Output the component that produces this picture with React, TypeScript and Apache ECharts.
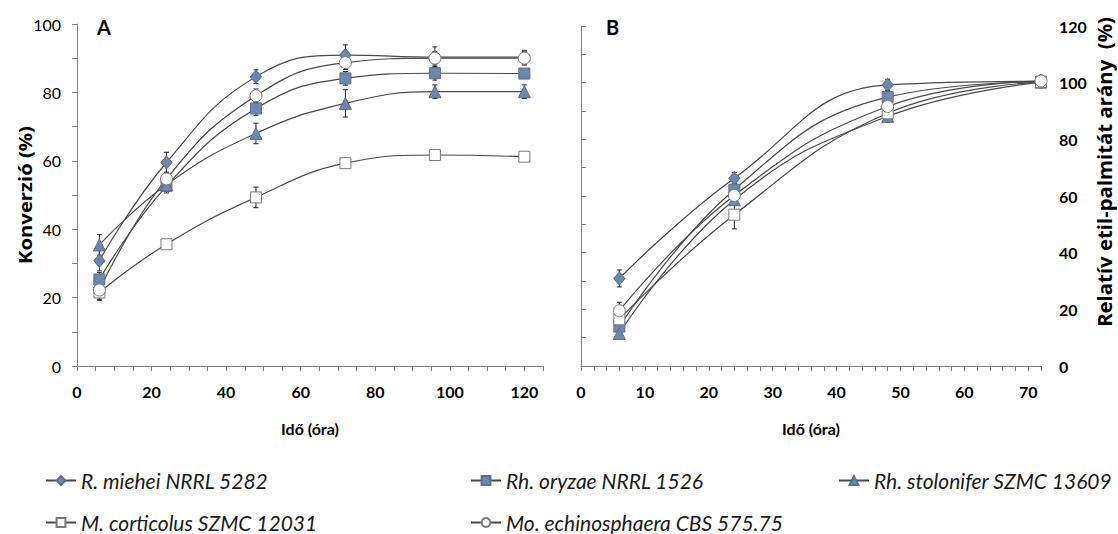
import React, { useEffect, useRef } from "react";
import * as echarts from "echarts";

// ---- Data ----
const timesA = [6, 24, 48, 72, 96, 120];
const timesB = [6, 24, 48, 72];

const seriesNames = [
  "R. miehei NRRL 5282",
  "Rh. oryzae NRRL 1526",
  "Rh. stolonifer SZMC 13609",
  "M. corticolus SZMC 12031",
  "Mo. echinosphaera CBS 575.75",
];

// Panel A: Konverzió (%)
const miehei_A = [30.8, 59.5, 84.6, 90.9, 90.3, 90.3];
const oryzae_A = [25.3, 52.6, 75.3, 84.1, 85.6, 85.5];
const stolonifer_A = [35.4, 53.0, 68.0, 76.8, 80.2, 80.2];
const corticolus_A = [21.5, 35.6, 49.3, 59.3, 61.7, 61.2];
const echino_A = [22.2, 54.7, 79.0, 88.7, 90.0, 90.0];

const miehei_A_err = [3, 3, 2, 3, 3, 2];
const oryzae_A_err = [2, 2, 2, 2, 2, 1];
const stolonifer_A_err = [3, 2, 3, 4, 2, 2];
const corticolus_A_err = [2, 1, 3, 1, 1, 1];
const echino_A_err = [3, 2, 2, 2, 2, 2];

// Panel B: Relatív etil-palmitát arány (%)
const miehei_B = [30.9, 66.3, 99.2, 100.5];
const oryzae_B = [13.9, 62.2, 94.9, 100.3];
const stolonifer_B = [11.5, 58.7, 88.1, 100.2];
const corticolus_B = [16.5, 53.4, 89.2, 100.2];
const echino_B = [19.5, 60.2, 91.6, 100.6];

const miehei_B_err = [3, 2, 2, 2];
const oryzae_B_err = [2, 2, 2, 2];
const stolonifer_B_err = [2, 2, 2, 2];
const corticolus_B_err = [2, 5, 2, 2];
const echino_B_err = [3, 2, 2, 2];

const yTicksA = [0, 20, 40, 60, 80, 100];
const yTicksB = [0, 20, 40, 60, 80, 100, 120];

const xNameA = "Idő (óra)";
const xNameB = "Idő (óra)";
const yNameA = "Konverzió (%)";
const yNameB = "Relatív etil-palmitát arány  (%)";

const FONT = "Lato, 'Open Sans', sans-serif";
const NAME_FONT = "'Open Sans', Lato, sans-serif";
const BLUE = "#6f87ad";
const BLUE_BORDER = "#586f93";
const LINE = "#4a4a4a";
const LEGEND_FS = 21;

type MarkerStyle = { symbol: string; size: number | number[]; fill: string; border: string };
const markers: MarkerStyle[] = [
  { symbol: "diamond", size: [11, 13], fill: BLUE, border: BLUE_BORDER },
  { symbol: "rect", size: 11, fill: BLUE, border: BLUE_BORDER },
  { symbol: "triangle", size: [12, 12], fill: BLUE, border: BLUE_BORDER },
  { symbol: "rect", size: 11, fill: "#ffffff", border: "#7a7a7a" },
  { symbol: "circle", size: 12, fill: "#ffffff", border: "#7a7a7a" },
];

const dataA = [miehei_A, oryzae_A, stolonifer_A, corticolus_A, echino_A];
const errA = [miehei_A_err, oryzae_A_err, stolonifer_A_err, corticolus_A_err, echino_A_err];
const dataB = [miehei_B, oryzae_B, stolonifer_B, corticolus_B, echino_B];
const errB = [miehei_B_err, oryzae_B_err, stolonifer_B_err, corticolus_B_err, echino_B_err];

function measure(text: string, font: string): number {
  try {
    const c = document.createElement("canvas").getContext("2d");
    if (!c) return 0;
    c.font = font;
    return c.measureText(text).width;
  } catch (e) {
    return 0;
  }
}

function errorSeries(times: number[], vals: number[], errs: number[], gi: number) {
  return {
    type: "custom",
    xAxisIndex: gi,
    yAxisIndex: gi,
    z: 1,
    silent: true,
    data: times.map((t, i) => [t, vals[i], errs[i]]),
    renderItem: (_p: any, api: any) => {
      const x = api.value(0);
      const y = api.value(1);
      const e = api.value(2);
      const top = api.coord([x, y + e]);
      const bot = api.coord([x, y - e]);
      const w = 2.5;
      const st = { stroke: "#222", lineWidth: 1 };
      return {
        type: "group",
        children: [
          { type: "line", shape: { x1: top[0], y1: top[1], x2: bot[0], y2: bot[1] }, style: st },
          { type: "line", shape: { x1: top[0] - w, y1: top[1], x2: top[0] + w, y2: top[1] }, style: st },
          { type: "line", shape: { x1: bot[0] - w, y1: bot[1], x2: bot[0] + w, y2: bot[1] }, style: st },
        ],
      };
    },
  };
}

function lineSeries(name: string, times: number[], vals: number[], m: MarkerStyle, gi: number) {
  return {
    type: "line",
    name,
    xAxisIndex: gi,
    yAxisIndex: gi,
    z: 3,
    smooth: 0.45,
    data: times.map((t, i) => [t, vals[i]]),
    symbol: m.symbol,
    symbolSize: m.size,
    showAllSymbol: true,
    lineStyle: { color: LINE, width: 1.2 },
    itemStyle: { color: m.fill, borderColor: m.border, borderWidth: 1 },
  };
}

export default function App() {
  const ref = useRef<HTMLDivElement>(null);
  useEffect(() => {
    if (!ref.current) return;
    const chart = echarts.init(ref.current, null, { renderer: "svg" });
    const series: any[] = [];
    for (let i = 0; i < 5; i++) {
      series.push(errorSeries(timesA, dataA[i], errA[i], 0));
      series.push(errorSeries(timesB, dataB[i], errB[i], 1));
    }
    for (let i = 0; i < 5; i++) {
      series.push(lineSeries(seriesNames[i], timesA, dataA[i], markers[i], 0));
    }
    for (let i = 0; i < 5; i++) {
      series.push(lineSeries(seriesNames[i], timesB, dataB[i], markers[i], 1));
    }
    const axisLineStyle = { color: "#7f7f7f", width: 1 };

    // legend placement: third entry ends at the right edge like the source
    const w3 = measure(seriesNames[2], `italic ${LEGEND_FS}px Lato`) || 242;
    const col3 = Math.round(1111 - w3 - 35);
    const legendPos = [
      [45, 470],
      [470, 470],
      [col3, 470],
      [45, 512],
      [470, 512],
    ];

    // vertical axis titles: stretched along their length like the source image
    const fsA = 17;
    const fsB = 19;
    const wA = measure(yNameA, `bold ${fsA}px 'Open Sans'`) || 125;
    const wB = measure(yNameB, `bold ${fsB}px 'Open Sans'`) || 320;
    const scaleA = 138 / wA;
    const scaleB = 310 / wB;

    const option: any = {
      animation: false,
      backgroundColor: "#ffffff",
      textStyle: { fontFamily: FONT },
      grid: [
        { left: 77, top: 24, width: 466, height: 342 },
        { left: 581, top: 26, width: 460, height: 340 },
      ],
      xAxis: [
        {
          type: "value",
          gridIndex: 0,
          min: 0,
          max: 125,
          interval: 5,
          name: xNameA,
          nameLocation: "middle",
          nameGap: 54,
          nameTextStyle: { fontFamily: FONT, fontWeight: "bold", fontSize: 16, color: "#000" },
          axisLine: { lineStyle: axisLineStyle },
          axisTick: { show: true, length: 5, lineStyle: axisLineStyle },
          axisLabel: {
            margin: 17,
            fontFamily: FONT,
            fontWeight: "bold",
            fontSize: 16,
            color: "#000",
            formatter: (v: number) => (v % 20 === 0 ? String(v) : ""),
          },
          splitLine: { show: false },
        },
        {
          type: "value",
          gridIndex: 1,
          min: 0,
          max: 72,
          interval: 2,
          name: xNameB,
          nameLocation: "middle",
          nameGap: 54,
          nameTextStyle: { fontFamily: FONT, fontWeight: "bold", fontSize: 16, color: "#000" },
          axisLine: { lineStyle: axisLineStyle },
          axisTick: { show: true, length: 5, lineStyle: axisLineStyle },
          axisLabel: {
            margin: 17,
            fontFamily: FONT,
            fontWeight: "bold",
            fontSize: 16,
            color: "#000",
            formatter: (v: number) => (v % 10 === 0 ? String(v) : ""),
          },
          splitLine: { show: false },
        },
      ],
      yAxis: [
        {
          type: "value",
          gridIndex: 0,
          min: yTicksA[0],
          max: yTicksA[yTicksA.length - 1],
          interval: 20,
          axisLine: { show: true, lineStyle: axisLineStyle },
          axisTick: { show: true, length: 5, lineStyle: axisLineStyle },
          minorTick: { show: true, splitNumber: 2, length: 5, lineStyle: axisLineStyle },
          axisLabel: { margin: 16, fontFamily: FONT, fontSize: 16, color: "#000" },
          splitLine: { show: false },
        },
        {
          type: "value",
          gridIndex: 1,
          position: "right",
          min: yTicksB[0],
          max: yTicksB[yTicksB.length - 1],
          interval: 20,
          axisLine: { show: true, lineStyle: axisLineStyle },
          axisTick: { show: true, length: 5, lineStyle: axisLineStyle },
          minorTick: { show: true, splitNumber: 2, length: 5, lineStyle: axisLineStyle },
          axisLabel: { margin: 18, fontFamily: FONT, fontWeight: "bold", fontSize: 16, color: "#000" },
          splitLine: { show: false },
        },
      ],
      legend: legendPos.map((p, i) => ({
        data: [seriesNames[i]],
        left: p[0],
        top: p[1],
        padding: 0,
        itemWidth: 30,
        itemHeight: 11,
        selectedMode: false,
        textStyle: { fontFamily: FONT, fontStyle: "italic", fontSize: LEGEND_FS, color: "#1a1a1a" },
      })),
      graphic: [
        {
          type: "text",
          left: 97,
          top: 17,
          style: { text: "A", fontFamily: FONT, fontWeight: "bold", fontSize: 20, fill: "#000" },
        },
        {
          type: "text",
          left: 606,
          top: 17,
          style: { text: "B", fontFamily: FONT, fontWeight: "bold", fontSize: 20, fill: "#000" },
        },
        {
          type: "text",
          x: 25,
          y: 195,
          rotation: Math.PI / 2,
          scaleX: scaleA,
          style: {
            text: yNameA,
            fontFamily: NAME_FONT,
            fontWeight: "bold",
            fontSize: fsA,
            fill: "#000",
            align: "center",
            verticalAlign: "middle",
          },
        },
        {
          type: "text",
          x: 1105,
          y: 172,
          rotation: Math.PI / 2,
          scaleX: scaleB,
          style: {
            text: yNameB,
            fontFamily: NAME_FONT,
            fontWeight: "bold",
            fontSize: fsB,
            fill: "#000",
            align: "center",
            verticalAlign: "middle",
          },
        },
      ],
      series,
    };
    chart.setOption(option);
    return () => chart.dispose();
  }, []);
  return (
    <div
      ref={ref}
      style={{ position: "absolute", left: 0, top: 0, width: 1118, height: 534, background: "#fff" }}
    />
  );
}
